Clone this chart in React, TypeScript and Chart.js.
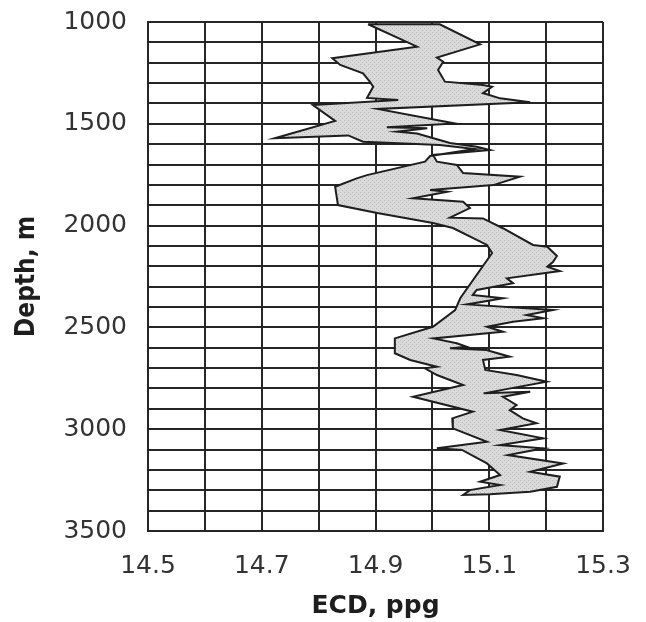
import { useEffect, useRef } from 'react';
import { Chart, registerables } from 'chart.js';

Chart.register(...registerables);

// Left (minimum) boundary of the ECD band, top to bottom
const leftDepth = [1011, 1121, 1178, 1211, 1252, 1293, 1318, 1373, 1383, 1408, 1486, 1571, 1557, 1588, 1604, 1624, 1658, 1686, 1752, 1768, 1809, 1899, 1938, 1987, 2012, 2095, 2135, 2357, 2415, 2497, 2554, 2627, 2660, 2693, 2701, 2734, 2783, 2841, 2914, 2947, 2996, 3062, 3094, 3102, 3168, 3225, 3258, 3274, 3299, 3323];
const leftEcd = [14.887, 14.973, 14.824, 14.838, 14.878, 14.890, 14.896, 14.885, 14.940, 14.790, 14.829, 14.723, 14.852, 14.878, 15.013, 15.075, 14.996, 14.987, 14.885, 14.867, 14.829, 14.834, 14.903, 15.001, 15.036, 15.096, 15.105, 15.049, 15.040, 15.001, 14.934, 14.934, 14.961, 15.008, 14.987, 15.008, 15.054, 14.966, 15.071, 15.035, 15.036, 15.096, 15.008, 15.052, 15.096, 15.119, 15.084, 15.119, 15.066, 15.054];

// Right (maximum) boundary of the ECD band, top to bottom
const rightDepth = [1011, 1110, 1175, 1195, 1236, 1293, 1309, 1318, 1349, 1375, 1394, 1427, 1498, 1517, 1522, 1539, 1548, 1594, 1613, 1629, 1653, 1686, 1702, 1742, 1760, 1801, 1825, 1834, 1866, 1883, 1914, 1961, 1965, 2013, 2095, 2104, 2149, 2179, 2202, 2223, 2259, 2283, 2316, 2341, 2357, 2387, 2415, 2439, 2455, 2472, 2497, 2521, 2554, 2578, 2595, 2603, 2611, 2644, 2660, 2709, 2734, 2767, 2824, 2816, 2841, 2881, 2906, 2947, 2971, 3004, 3045, 3078, 3094, 3127, 3168, 3209, 3233, 3283, 3307, 3320];
const rightEcd = [15.013, 15.084, 15.008, 15.019, 15.010, 15.022, 15.089, 15.105, 15.089, 15.119, 15.172, 14.904, 15.040, 14.920, 14.991, 14.938, 14.973, 15.031, 15.078, 15.101, 15.001, 15.008, 15.043, 15.054, 15.154, 15.107, 14.996, 15.026, 14.966, 15.054, 15.066, 15.031, 15.089, 15.124, 15.177, 15.202, 15.219, 15.212, 15.202, 15.224, 15.131, 15.142, 15.078, 15.071, 15.124, 15.061, 15.212, 15.166, 15.195, 15.142, 15.096, 15.124, 15.002, 15.043, 15.060, 15.031, 15.095, 15.136, 15.089, 15.093, 15.148, 15.201, 15.090, 15.172, 15.124, 15.148, 15.136, 15.159, 15.183, 15.119, 15.195, 15.119, 15.195, 15.133, 15.230, 15.172, 15.224, 15.219, 15.172, 15.101];

const xTickLabels = [14.5, 14.7, 14.9, 15.1, 15.3];
const yTickLabels = [1000, 1500, 2000, 2500, 3000, 3500];

const bandFillPlugin = {
  id: 'bandFill',
  beforeDatasetsDraw(chart: any) {
    const meta = chart.getDatasetMeta(0);
    const pts = meta.data;
    if (!pts || !pts.length) return;
    const ctx = chart.ctx;
    const area = chart.chartArea;
    ctx.save();
    ctx.beginPath();
    ctx.rect(area.left, area.top, area.right - area.left, area.bottom - area.top);
    ctx.clip();
    ctx.beginPath();
    pts.forEach((p: any, i: number) => (i ? ctx.lineTo(p.x, p.y) : ctx.moveTo(p.x, p.y)));
    ctx.closePath();
    const pc = document.createElement('canvas');
    pc.width = 4;
    pc.height = 4;
    const pctx = pc.getContext('2d')!;
    pctx.fillStyle = '#dadada';
    pctx.fillRect(0, 0, 4, 4);
    pctx.fillStyle = '#b9b9b9';
    pctx.fillRect(0, 0, 1, 1);
    pctx.fillRect(2, 2, 1, 1);
    const pattern = ctx.createPattern(pc, 'repeat');
    ctx.fillStyle = pattern || '#d2d2d2';
    ctx.fill();
    ctx.restore();
  },
};

export default function App() {
  const ref = useRef<HTMLCanvasElement | null>(null);

  useEffect(() => {
    document.body.style.margin = '0';
    if (!ref.current) return;
    const outline = [
      ...leftEcd.map((x, i) => ({ x, y: leftDepth[i] })),
      ...rightEcd.map((x, i) => ({ x, y: rightDepth[i] })).reverse(),
      { x: leftEcd[0], y: leftDepth[0] },
    ];
    const gridColor = '#262626';
    const chart = new Chart(ref.current, {
      type: 'scatter',
      data: {
        datasets: [
          {
            data: outline,
            showLine: true,
            borderColor: '#1e1e1e',
            borderWidth: 2,
            pointRadius: 0,
            pointHoverRadius: 0,
            tension: 0,
            fill: false,
          },
        ],
      },
      options: {
        responsive: false,
        animation: false,
        layout: { padding: { top: 22, right: 43, left: 0, bottom: 0 } },
        plugins: {
          legend: { display: false },
          tooltip: { enabled: false },
        },
        scales: {
          x: {
            type: 'linear',
            position: 'bottom',
            min: 14.5,
            max: 15.3,
            afterFit: (scale: any) => {
              scale.height = 91;
              scale.paddingLeft = 0;
              scale.paddingRight = 0;
            },
            ticks: {
              stepSize: 0.1,
              autoSkip: false,
              maxRotation: 0,
              padding: 20,
              color: '#333',
              font: { family: 'DejaVu Sans', size: 25 },
              callback: (v: any) => {
                const n = Number(v);
                const hit = xTickLabels.find((t) => Math.abs(t - n) < 1e-6);
                return hit !== undefined ? hit.toFixed(1) : '';
              },
            },
            grid: { color: gridColor, lineWidth: 2, drawTicks: false },
            border: { display: true, color: gridColor, width: 2 },
            title: {
              display: true,
              text: 'ECD, ppg',
              color: '#1e1e1e',
              font: { family: 'DejaVu Sans', size: 25, weight: 'bold' },
              padding: { top: 0, bottom: 1 },
            },
          },
          y: {
            type: 'linear',
            reverse: true,
            min: 1000,
            max: 3500,
            afterFit: (scale: any) => {
              scale.width = 148;
              scale.paddingTop = 0;
              scale.paddingBottom = 0;
            },
            ticks: {
              stepSize: 100,
              autoSkip: false,
              padding: 21,
              color: '#333',
              font: { family: 'DejaVu Sans', size: 25 },
              callback: (v: any) => {
                const n = Number(v);
                const hit = yTickLabels.find((t) => Math.abs(t - n) < 1e-6);
                return hit !== undefined ? String(hit) : '';
              },
            },
            grid: { color: gridColor, lineWidth: 2, drawTicks: false },
            border: { display: true, color: gridColor, width: 2 },
            title: {
              display: true,
              text: 'Depth, m',
              color: '#1e1e1e',
              font: { family: 'DejaVu Sans Condensed', size: 26, weight: 'bold' },
              padding: { top: 12, bottom: 0 },
            },
          },
        },
      },
      plugins: [bandFillPlugin],
    });
    return () => chart.destroy();
  }, []);

  return (
    <div style={{ width: 646, height: 622 }}>
      <canvas ref={ref} width={646} height={622} style={{ display: 'block' }} />
    </div>
  );
}
